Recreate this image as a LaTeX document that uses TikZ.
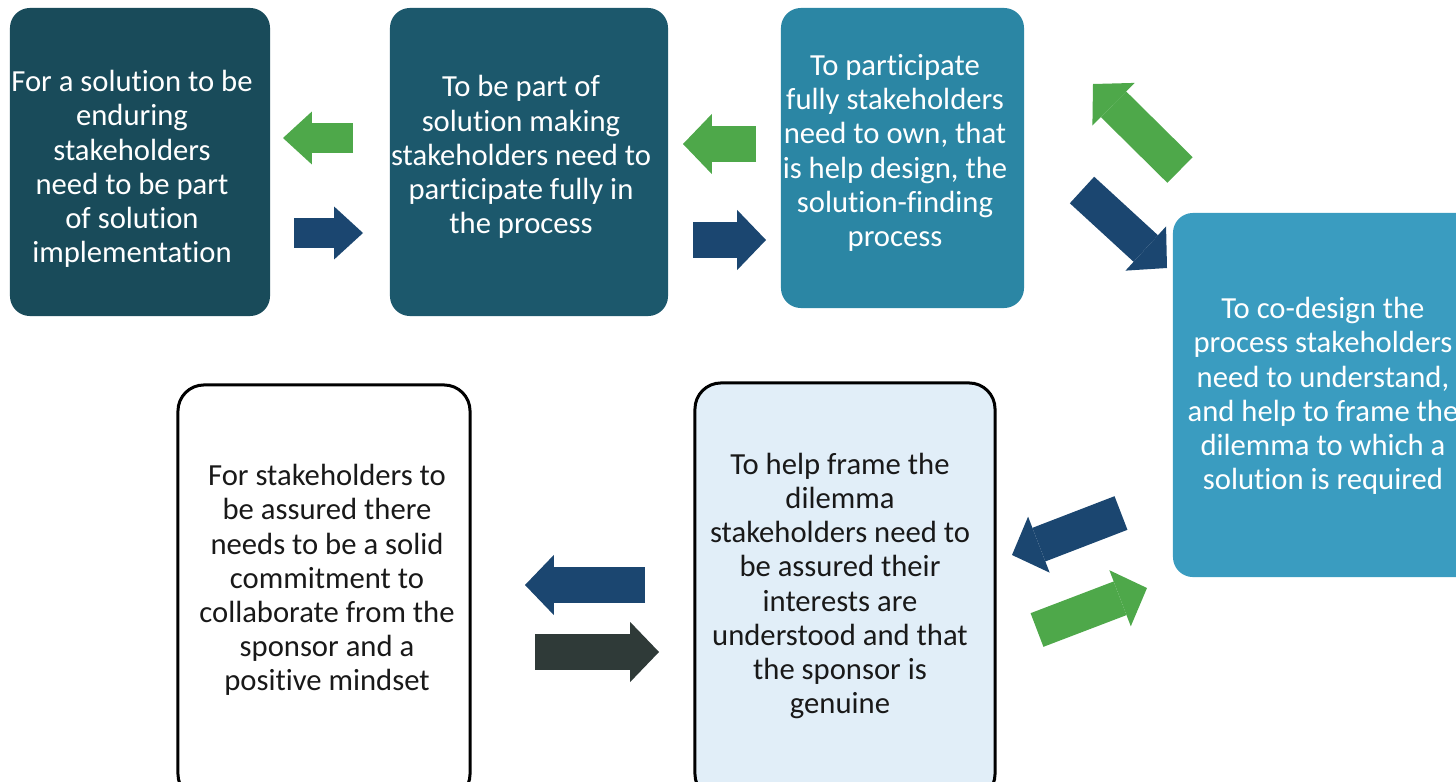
\documentclass[tikz,border=0pt]{standalone}
\usepackage{fontspec}
\setmainfont{Carlito}[Ligatures=NoCommon]
\usetikzlibrary{arrows.meta}

\definecolor{deepteal}{RGB}{25,75,90}
\definecolor{midteal}{RGB}{28,88,108}
\definecolor{brightteal}{RGB}{43,134,164}
\definecolor{skyteal}{RGB}{58,156,192}
\definecolor{paleblue}{RGB}{225,238,248}
\definecolor{leafgreen}{RGB}{78,168,74}
\definecolor{navy}{RGB}{27,70,112}
\definecolor{charcoal}{RGB}{47,58,56}

\begin{document}
\begin{tikzpicture}[
        %We work on the pixel grid and define some styles
        x=0.025cm, y=-0.025cm,
        box/.style={rectangle, rounded corners=0.5cm, inner sep=0pt},
        open box/.style={box, draw=black, line width=0.075cm, rounded corners=0.65cm},
        txt/.style={align=center, inner sep=0pt, font=\fontsize{21.8}{24.3}\selectfont},
        flow/.style={line width=0.9cm, -{Triangle[length=0.72cm, width=1.5cm, line width=0pt]}},
        small flow/.style={line width=0.75cm, -{Triangle[length=0.72cm, width=1.32cm, line width=0pt]}}
     ]
    \clip (0,0) rectangle (1456,782);
    \useasboundingbox (0,0) rectangle (1456,782);

    % The boxes of the chain
    \node[box, fill=deepteal, minimum width=6.5cm, minimum height=7.7cm] (endure) at (140,162) {};
    \node[box, fill=midteal, minimum width=6.95cm, minimum height=7.7cm] (partake) at (529,162) {};
    \node[box, fill=brightteal, minimum width=6.075cm, minimum height=7.5cm] (own) at (902.5,158) {};
    \node[box, fill=skyteal, minimum width=7.675cm, minimum height=9.1cm] (codesign) at (1326.5,395) {};
    \node[open box, fill=white, minimum width=7.3cm, minimum height=10.375cm] (commit) at (324,592.5) {};
    \node[open box, fill=paleblue, minimum width=7.5cm, minimum height=10.425cm] (frame) at (845,591.5) {};

    % Texts
    \node[txt, text=white] (endure text) at (132,169) {For a solution to be\\enduring\\stakeholders\\need to be part\\of solution\\implementation};
    \node[txt, text=white] (partake text) at (521,157) {To be part of\\solution making\\stakeholders need to\\participate fully in\\the process};
    \node[txt, text=white] (own text) at (895,153) {To participate\\fully stakeholders\\need to own, that\\is help design, the\\solution-finding\\process};
    \node[txt, text=white] (codesign text) at (1323,396) {To co-design the\\process stakeholders\\need to understand,\\and help to frame the\\dilemma to which a\\solution is required};
    \node[txt, text=black!90] (commit text) at (327,580) {For stakeholders to\\be assured there\\needs to be a solid\\commitment to\\collaborate from the\\sponsor and a\\positive mindset};
    \node[txt, text=black!90] (frame text) at (840,586) {To help frame the\\dilemma\\stakeholders need to\\be assured their\\interests are\\understood and that\\the sponsor is\\genuine};

    % Ends of the block arrows
    \coordinate (back1 s) at (353,138);   \coordinate (back1 e) at (283,138);
    \coordinate (fwd1 s) at (294,233);    \coordinate (fwd1 e) at (363,233);
    \coordinate (back2 s) at (756,144);   \coordinate (back2 e) at (683,144);
    \coordinate (fwd2 s) at (693,240);    \coordinate (fwd2 e) at (766,240);
    \coordinate (back3 s) at (1180,170);  \coordinate (back3 e) at (1093,84);
    \coordinate (fwd3 s) at (1082,190);   \coordinate (fwd3 e) at (1167,268);
    \coordinate (fwd4 s) at (1121,513);   \coordinate (fwd4 e) at (1012,555);
    \coordinate (back4 s) at (1037,630);  \coordinate (back4 e) at (1147,588);
    \coordinate (fwd5 s) at (645,585);    \coordinate (fwd5 e) at (525,585);
    \coordinate (back5 s) at (535,652);   \coordinate (back5 e) at (659,652);

    % Block arrows
    \draw[small flow, leafgreen] (back1 s) -- (back1 e);
    \draw[small flow, navy] (fwd1 s) -- (fwd1 e);
    \draw[flow, leafgreen] (back2 s) -- (back2 e);
    \draw[flow, navy] (fwd2 s) -- (fwd2 e);
    \draw[flow, leafgreen] (back3 s) -- (back3 e);
    \draw[flow, navy] (fwd3 s) -- (fwd3 e);
    \draw[flow, navy] (fwd4 s) -- (fwd4 e);
    \draw[flow, leafgreen] (back4 s) -- (back4 e);
    \draw[flow, navy] (fwd5 s) -- (fwd5 e);
    \draw[flow, charcoal] (back5 s) -- (back5 e);
\end{tikzpicture}
\end{document}
